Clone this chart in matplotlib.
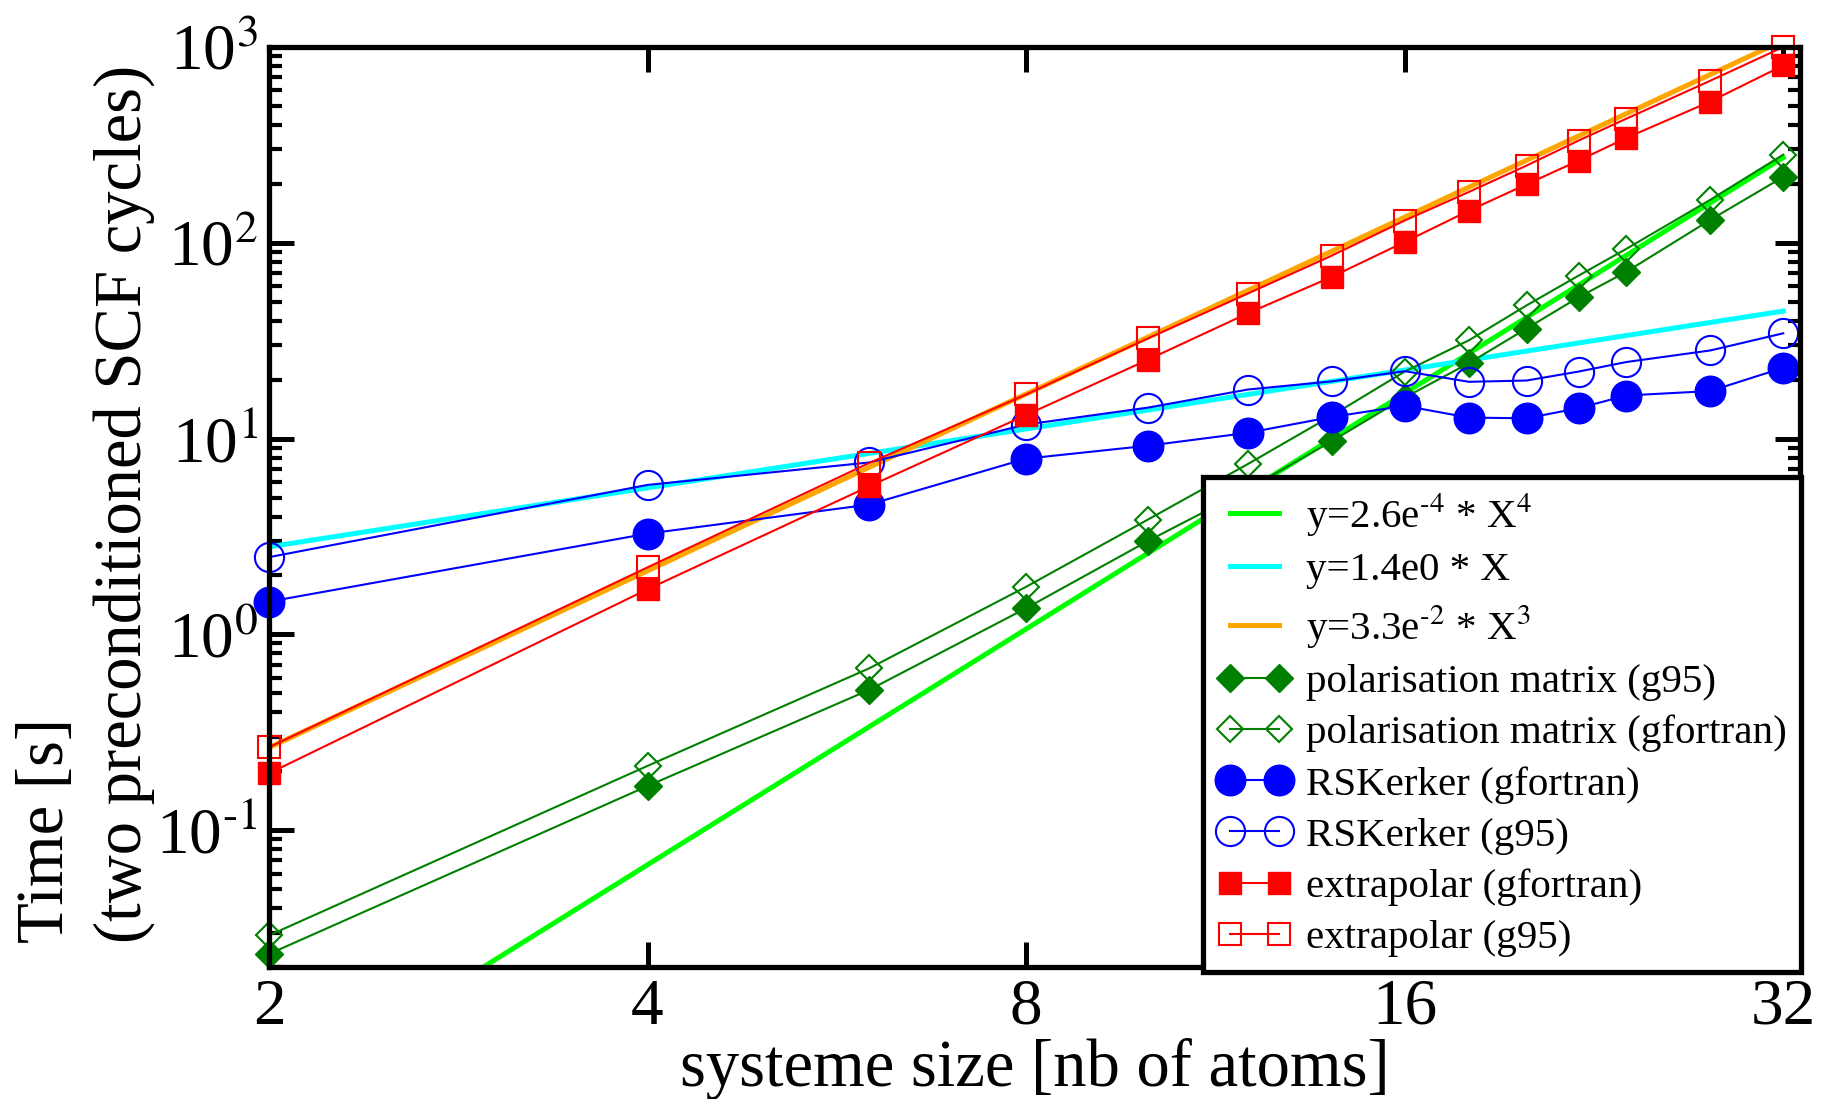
import matplotlib
matplotlib.use("Agg")
import matplotlib.pyplot as plt
from matplotlib.ticker import LogLocator, NullLocator, NullFormatter, FuncFormatter
import numpy as np

plt.rcParams['font.family'] = ['Liberation Serif', 'DejaVu Serif']
plt.rcParams['mathtext.fontset'] = 'stix'

# system sizes (nb of atoms)
sizes = [2, 4, 6, 8, 10, 12, 14, 16, 18, 20, 22, 24, 28, 32]

# timings [s]
pol_g95 = [0.0233, 0.168, 0.52, 1.36, 3.0, 5.5, 9.7, 16.2, 24.3, 36.5, 52.7, 71, 131, 217]
pol_gfortran = [0.029, 0.213, 0.67, 1.75, 3.86, 7.4, 13.1, 22.0, 31.8, 47.9, 68, 93, 166, 282]
rsk_gfortran = [1.47, 3.27, 4.6, 7.9, 9.2, 10.7, 12.9, 14.7, 12.8, 12.7, 14.3, 16.6, 17.5, 23.0]
rsk_g95 = [2.48, 5.8, 7.55, 11.8, 14.4, 17.8, 19.6, 22.1, 19.5, 19.8, 22.0, 24.6, 28.2, 34.5]
extra_gfortran = [0.195, 1.70, 5.7, 13.2, 25.3, 43.6, 67, 101, 146, 199, 263, 343, 527, 805]
extra_g95 = [0.265, 2.2, 7.5, 16.8, 32.5, 55, 86, 130, 182, 248, 333, 430, 673, 1000]

# fitted power laws, end points at x=2 and x=32
fit_x = [2, 32]
fit_x4 = [0.00416, 272.6]   # 2.6e-4 * X^4
fit_x1 = [2.8, 44.8]        # 1.4e0 * X
fit_x3 = [0.264, 1081.0]    # 3.3e-2 * X^3

xticks = [2, 4, 8, 16, 32]
xticklabels = ['2', '4', '8', '16', '32']

fig = plt.figure(figsize=(18.21, 10.99), dpi=100)
ax = fig.add_axes([0.1477, 0.1201, 0.8408, 0.8371])

GREEN = '#008000'
fit_lw = 3.6
lw = 1.5

ax.plot(fit_x, fit_x4, color='#00ff00', lw=fit_lw,
        label=r'y=2.6e$^{\text{-4}}$ * X$^{\text{4}}$')
ax.plot(fit_x, fit_x1, color='#00ffff', lw=fit_lw, label='y=1.4e0 * X')
ax.plot(fit_x, fit_x3, color='#ffa500', lw=fit_lw,
        label=r'y=3.3e$^{\text{-2}}$ * X$^{\text{3}}$')

ax.plot(sizes, pol_g95, color=GREEN, lw=lw, marker='D', ms=14,
        mec=GREEN, mfc=GREEN, clip_on=False, label='polarisation matrix (g95)')
ax.plot(sizes, pol_gfortran, color=GREEN, lw=lw, marker='D', ms=13.5,
        mec=GREEN, mfc='none', mew=1.5, clip_on=False,
        label='polarisation matrix (gfortran)')
ax.plot(sizes, rsk_gfortran, color='#0000ff', lw=lw, marker='o', ms=22,
        mec='#0000ff', mfc='#0000ff', clip_on=False, label='RSKerker (gfortran)')
ax.plot(sizes, rsk_g95, color='#0000ff', lw=lw, marker='o', ms=21,
        mec='#0000ff', mfc='none', mew=1.5, clip_on=False, label='RSKerker (g95)')
ax.plot(sizes, extra_gfortran, color='#ff0000', lw=lw, marker='s', ms=16,
        mec='#ff0000', mfc='#ff0000', clip_on=False, label='extrapolar (gfortran)')
ax.plot(sizes, extra_g95, color='#ff0000', lw=lw, marker='s', ms=16,
        mec='#ff0000', mfc='none', mew=1.5, clip_on=False, label='extrapolar (g95)')

ax.set_xscale('log', base=2)
ax.set_yscale('log')
ax.set_xlim(2, 33)
ax.set_ylim(0.02, 1000)
ax.set_xticks(xticks)
ax.set_xticklabels(xticklabels)
ax.xaxis.set_minor_locator(NullLocator())
ax.yaxis.set_major_locator(LogLocator(base=10))
ax.yaxis.set_minor_locator(LogLocator(base=10, subs=range(2, 10)))
ax.yaxis.set_minor_formatter(NullFormatter())
ax.yaxis.set_major_formatter(FuncFormatter(
    lambda v, pos: r'10$^{\text{%d}}$' % int(round(np.log10(v)))))

ax.tick_params(which='major', direction='in', length=18, width=3.6,
               top=True, right=True, labelsize=47, pad=8)
ax.tick_params(which='minor', direction='in', length=9, width=3,
               top=True, right=True)
for sp in ax.spines.values():
    sp.set_linewidth(3.8)

ax.set_xlabel('systeme size [nb of atoms]', fontsize=48, labelpad=0)
fig.text(0.047, 0.142, 'Time [s]\n(two preconditioned SCF cycles)', rotation=90,
         ha='center', va='bottom', multialignment='left', fontsize=48,
         linespacing=1.35)

leg = ax.legend(loc='lower right', bbox_to_anchor=(1.0007, -0.0054),
                borderaxespad=0, fontsize=29.5, handlelength=1.8,
                handletextpad=0.35, borderpad=0.36, labelspacing=0.33,
                fancybox=False, edgecolor='black', framealpha=1, numpoints=2)
leg.get_frame().set_linewidth(3.8)

fig.savefig('out.png', dpi=100)
